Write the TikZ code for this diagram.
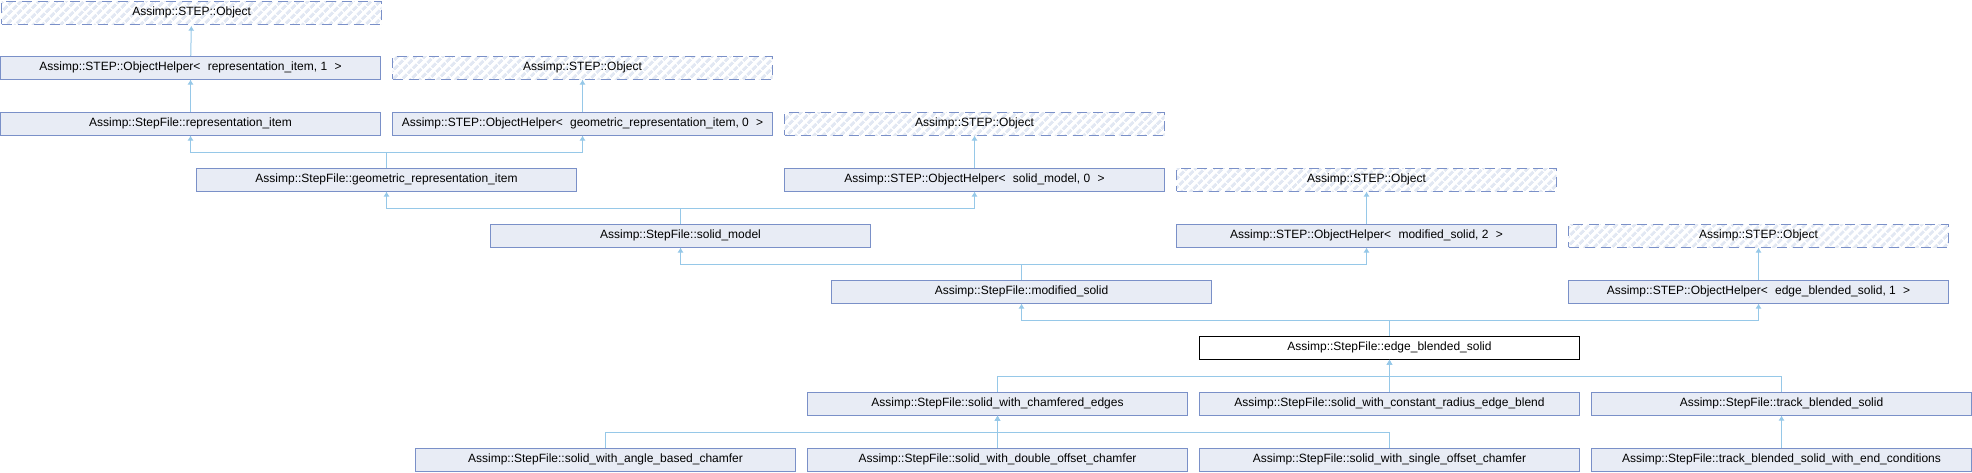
\documentclass[tikz,border=0pt]{standalone}
\usepackage{fontspec}
\setmainfont{Liberation Sans}
\usepackage{tikz}
\usetikzlibrary{arrows.meta,patterns.meta}
\definecolor{boxfill}{RGB}{232,236,245}
\definecolor{boxline}{RGB}{122,144,200}
\definecolor{hatch}{RGB}{226,232,243}
\definecolor{edgeblue}{RGB}{150,200,232}
\newcommand{\tlt}{<\hspace{4pt} }
\newcommand{\tgt}{ \hspace{4pt}>}
\tikzset{
  cbox/.style={draw=boxline, fill=boxfill, line width=1pt, anchor=north west,
               minimum width=380pt, minimum height=22.5pt, inner sep=0pt,
               font=\fontsize{12}{14}\selectfont},
  cboxcur/.style={cbox, draw=black, fill=white},
  cboxext/.style={cbox, dash pattern=on 10pt off 6pt,
                  pattern={Lines[angle=45, distance=6.5pt, line width=3.2pt]},
                  pattern color=hatch},
  iarrow/.style={draw=edgeblue, line width=1pt, -{Latex[length=5pt, width=6pt]}},
}

\begin{document}
\begin{tikzpicture}[x=1pt, y=-1pt]
  \useasboundingbox (0,0) rectangle (1972,472);
  \node[cboxext] (obj0) at (0,0) {Assimp::STEP::Object};
  \node[cbox] (ohrepr) at (0,56) {Assimp::STEP::ObjectHelper\tlt representation\_item, 1\tgt};
  \node[cboxext] (obj1) at (392,56) {Assimp::STEP::Object};
  \node[cbox] (repritem) at (0,112) {Assimp::StepFile::representation\_item};
  \node[cbox] (ohgeom) at (392,112) {Assimp::STEP::ObjectHelper\tlt geometric\_representation\_item, 0\tgt};
  \node[cboxext] (obj2) at (784,112) {Assimp::STEP::Object};
  \node[cbox] (geomrepr) at (196,168) {Assimp::StepFile::geometric\_representation\_item};
  \node[cbox] (ohsolid) at (784,168) {Assimp::STEP::ObjectHelper\tlt solid\_model, 0\tgt};
  \node[cboxext] (obj3) at (1176,168) {Assimp::STEP::Object};
  \node[cbox] (solidmodel) at (490,224) {Assimp::StepFile::solid\_model};
  \node[cbox] (ohmod) at (1176,224) {Assimp::STEP::ObjectHelper\tlt modified\_solid, 2\tgt};
  \node[cboxext] (obj4) at (1568,224) {Assimp::STEP::Object};
  \node[cbox] (modsolid) at (831,280) {Assimp::StepFile::modified\_solid};
  \node[cbox] (ohedge) at (1568,280) {Assimp::STEP::ObjectHelper\tlt edge\_blended\_solid, 1\tgt};
  \node[cboxcur] (edgeblend) at (1199,336) {Assimp::StepFile::edge\_blended\_solid};
  \node[cbox] (chamfered) at (807,392) {Assimp::StepFile::solid\_with\_chamfered\_edges};
  \node[cbox] (constrad) at (1199,392) {Assimp::StepFile::solid\_with\_constant\_radius\_edge\_blend};
  \node[cbox] (track) at (1591,392) {Assimp::StepFile::track\_blended\_solid};
  \node[cbox] (anglebased) at (415,448) {Assimp::StepFile::solid\_with\_angle\_based\_chamfer};
  \node[cbox] (doubleoff) at (807,448) {Assimp::StepFile::solid\_with\_double\_offset\_chamfer};
  \node[cbox] (singleoff) at (1199,448) {Assimp::StepFile::solid\_with\_single\_offset\_chamfer};
  \node[cbox] (trackend) at (1591,448) {Assimp::StepFile::track\_blended\_solid\_with\_end\_conditions};
  \draw[iarrow] (ohrepr) -- (obj0);
  \draw[iarrow] (repritem) -- (ohrepr);
  \draw[iarrow] (ohgeom) -- (obj1);
  \draw[iarrow] (ohsolid) -- (obj2);
  \draw[iarrow] (ohmod) -- (obj3);
  \draw[iarrow] (ohedge) -- (obj4);
  \draw[iarrow] (trackend) -- (track);
  \draw[iarrow] (geomrepr.north) -- ++(0,-16) -| (repritem.south);
  \draw[iarrow] (geomrepr.north) -- ++(0,-16) -| (ohgeom.south);
  \draw[iarrow] (solidmodel.north) -- ++(0,-16) -| (geomrepr.south);
  \draw[iarrow] (solidmodel.north) -- ++(0,-16) -| (ohsolid.south);
  \draw[iarrow] (modsolid.north) -- ++(0,-16) -| (solidmodel.south);
  \draw[iarrow] (modsolid.north) -- ++(0,-16) -| (ohmod.south);
  \draw[iarrow] (edgeblend.north) -- ++(0,-16) -| (modsolid.south);
  \draw[iarrow] (edgeblend.north) -- ++(0,-16) -| (ohedge.south);
  \draw[iarrow] (chamfered.north) -- ++(0,-16) -| (edgeblend.south);
  \draw[iarrow] (constrad.north) -- ++(0,-16) -| (edgeblend.south);
  \draw[iarrow] (track.north) -- ++(0,-16) -| (edgeblend.south);
  \draw[iarrow] (anglebased.north) -- ++(0,-16) -| (chamfered.south);
  \draw[iarrow] (doubleoff.north) -- ++(0,-16) -| (chamfered.south);
  \draw[iarrow] (singleoff.north) -- ++(0,-16) -| (chamfered.south);
\end{tikzpicture}
\end{document}
